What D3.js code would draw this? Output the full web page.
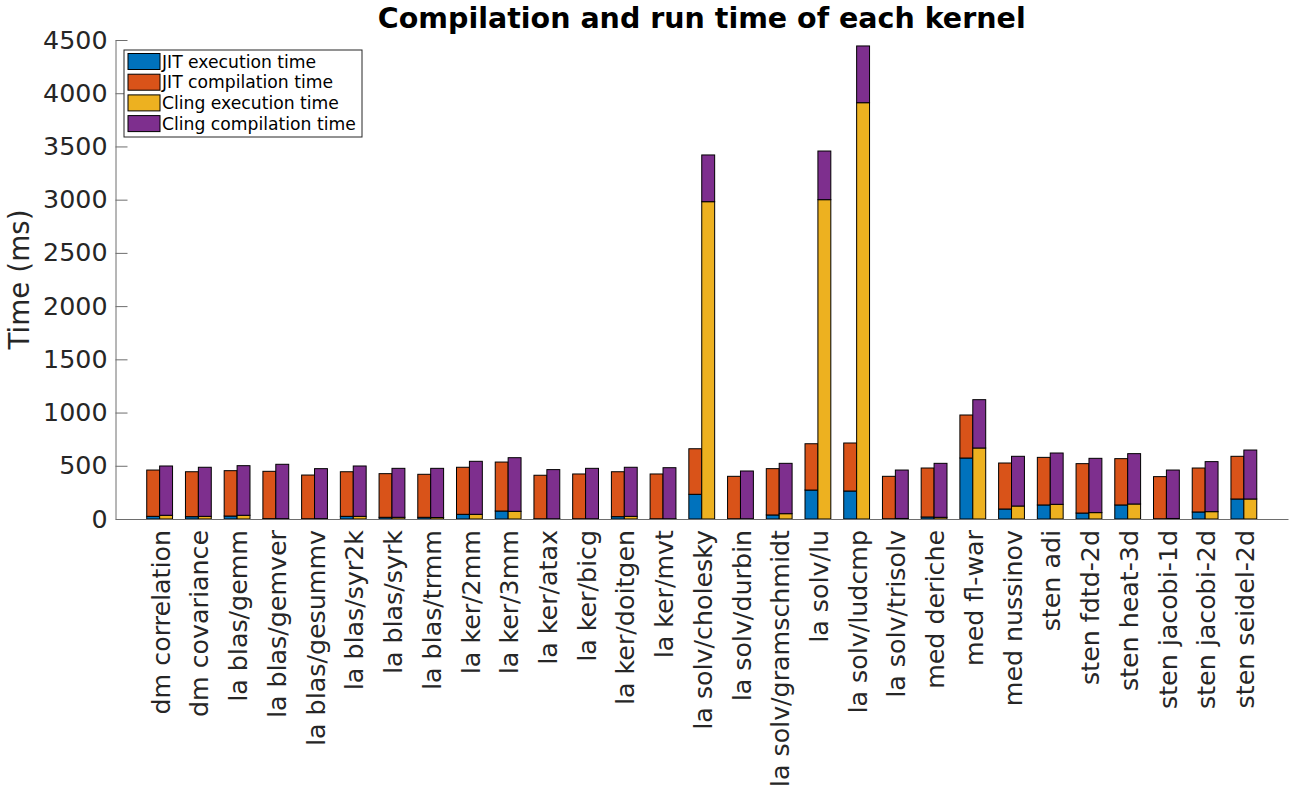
<!DOCTYPE html>
<html>
<head>
<meta charset="utf-8">
<script src="https://cdn.jsdelivr.net/npm/d3@7"></script>
<style>
  html, body { margin: 0; padding: 0; background: #fff; }
  svg { display: block; font-family: "DejaVu Sans", sans-serif; }
</style>
</head>
<body>
<svg id="chart" width="1289" height="792"></svg>
<script>
// Benchmark kernels (PolyBench-style names)
const categories = [
  "dm correlation", "dm covariance", "la blas/gemm", "la blas/gemver",
  "la blas/gesummv", "la blas/syr2k", "la blas/syrk", "la blas/trmm",
  "la ker/2mm", "la ker/3mm", "la ker/atax", "la ker/bicg",
  "la ker/doitgen", "la ker/mvt", "la solv/cholesky", "la solv/durbin",
  "la solv/gramschmidt", "la solv/lu", "la solv/ludcmp", "la solv/trisolv",
  "med deriche", "med fl-war", "med nussinov", "sten adi",
  "sten fdtd-2d", "sten heat-3d", "sten jacobi-1d", "sten jacobi-2d",
  "sten seidel-2d"
];

// Times in milliseconds
const jitExecution = [
  25, 22, 28, 3, 2, 25, 16, 16, 44, 75, 2, 2, 22, 2, 232, 2,
  38, 272, 263, 2, 19, 573, 94, 132, 56, 132, 2, 66, 188
];
const jitCompilation = [
  435, 422, 426, 445, 411, 419, 410, 404, 442, 460, 409, 421, 422, 421, 428, 399,
  435, 435, 451, 399, 460, 404, 432, 447, 464, 435, 396, 413, 401
];
const clingExecution = [
  35, 25, 35, 3, 3, 25, 16, 14, 44, 72, 2, 2, 25, 2, 2981, 2,
  50, 3000, 3911, 5, 16, 667, 122, 138, 60, 141, 5, 69, 188
];
const clingCompilation = [
  463, 461, 466, 511, 470, 473, 460, 462, 498, 504, 462, 474, 461, 480, 439, 449,
  473, 457, 533, 455, 507, 454, 467, 482, 510, 473, 455, 470, 460
];

const seriesNames = [
  "JIT execution time", "JIT compilation time",
  "Cling execution time", "Cling compilation time"
];
const seriesColors = ["#0072BD", "#D95319", "#EDB120", "#7E2F8E"];

const yTicks = [0, 500, 1000, 1500, 2000, 2500, 3000, 3500, 4000, 4500];

const svg = d3.select("#chart");
const plot = { left: 115.5, right: 1288, top: 40, bottom: 519 };
const barW = 1 / 3;

const x = d3.scaleLinear().domain([-0.14, categories.length + 1.14]).range([plot.left, plot.right]);
const y = d3.scaleLinear().domain([0, 4500]).range([plot.bottom, plot.top]);

// Two stacked bars per kernel: JIT on the left, Cling on the right
const rows = categories.map((c, i) => ({
  idx: i + 1,
  jit: [jitExecution[i], jitCompilation[i]],
  cling: [clingExecution[i], clingCompilation[i]]
}));

const segments = [];
rows.forEach(r => {
  let base = 0;
  r.jit.forEach((v, k) => {
    segments.push({ x0: r.idx - barW, x1: r.idx, y0: base, y1: base + v, color: seriesColors[k] });
    base += v;
  });
  base = 0;
  r.cling.forEach((v, k) => {
    segments.push({ x0: r.idx, x1: r.idx + barW, y0: base, y1: base + v, color: seriesColors[k + 2] });
    base += v;
  });
});

svg.append("g").selectAll("rect")
  .data(segments)
  .join("rect")
  .attr("x", d => x(d.x0))
  .attr("width", d => x(d.x1) - x(d.x0))
  .attr("y", d => y(d.y1))
  .attr("height", d => y(d.y0) - y(d.y1))
  .attr("fill", d => d.color)
  .attr("stroke", "#000")
  .attr("stroke-width", 1);

// Y axis (ticks point inward)
const yAxis = svg.append("g")
  .attr("transform", `translate(${plot.left},0)`)
  .call(d3.axisLeft(y)
    .tickValues(yTicks)
    .tickFormat(d3.format("d"))
    .tickSizeInner(-12)
    .tickSizeOuter(0)
    .tickPadding(8));
yAxis.select(".domain").attr("stroke", "#6e6e6e");
yAxis.selectAll(".tick line").attr("stroke", "#6e6e6e");
yAxis.selectAll(".tick text")
  .attr("fill", "#262626")
  .style("font-size", "25.3px")
  .style("font-family", "DejaVu Sans, sans-serif");

// X axis with rotated kernel names
const xAxis = svg.append("g")
  .attr("transform", `translate(0,${plot.bottom})`)
  .call(d3.axisBottom(x)
    .tickValues(rows.map(r => r.idx))
    .tickFormat(i => categories[i - 1])
    .tickSize(0)
    .tickSizeOuter(0));
xAxis.select(".domain").attr("stroke", "#6e6e6e");
xAxis.selectAll(".tick text")
  .attr("transform", "rotate(-90)")
  .attr("x", -11)
  .attr("y", 0)
  .attr("dy", "0.38em")
  .attr("text-anchor", "end")
  .attr("fill", "#262626")
  .style("font-size", "25.3px")
  .style("font-family", "DejaVu Sans, sans-serif");

// Title
svg.append("text")
  .attr("x", (plot.left + plot.right) / 2)
  .attr("y", 28)
  .attr("text-anchor", "middle")
  .style("font-size", "28.5px")
  .style("font-weight", "bold")
  .attr("fill", "#000")
  .text("Compilation and run time of each kernel");

// Y label
svg.append("text")
  .attr("transform", `translate(29,${(plot.top + plot.bottom) / 2}) rotate(-90)`)
  .attr("text-anchor", "middle")
  .style("font-size", "27.8px")
  .attr("fill", "#262626")
  .text("Time (ms)");

// Legend
const legend = svg.append("g").attr("transform", "translate(124,50)");
legend.append("rect")
  .attr("x", 0).attr("y", 0)
  .attr("width", 238).attr("height", 87)
  .attr("fill", "#fff")
  .attr("stroke", "#262626")
  .attr("stroke-width", 1);
const item = legend.selectAll("g.item")
  .data(seriesNames)
  .join("g")
  .attr("class", "item")
  .attr("transform", (d, i) => `translate(4,${3.5 + i * 20.7})`);
item.append("rect")
  .attr("width", 32).attr("height", 16)
  .attr("fill", (d, i) => seriesColors[i])
  .attr("stroke", "#000")
  .attr("stroke-width", 1);
item.append("text")
  .attr("x", 34)
  .attr("y", 8)
  .attr("dy", "0.35em")
  .style("font-size", "17.2px")
  .attr("fill", "#000")
  .text(d => d);
</script>
</body>
</html>
